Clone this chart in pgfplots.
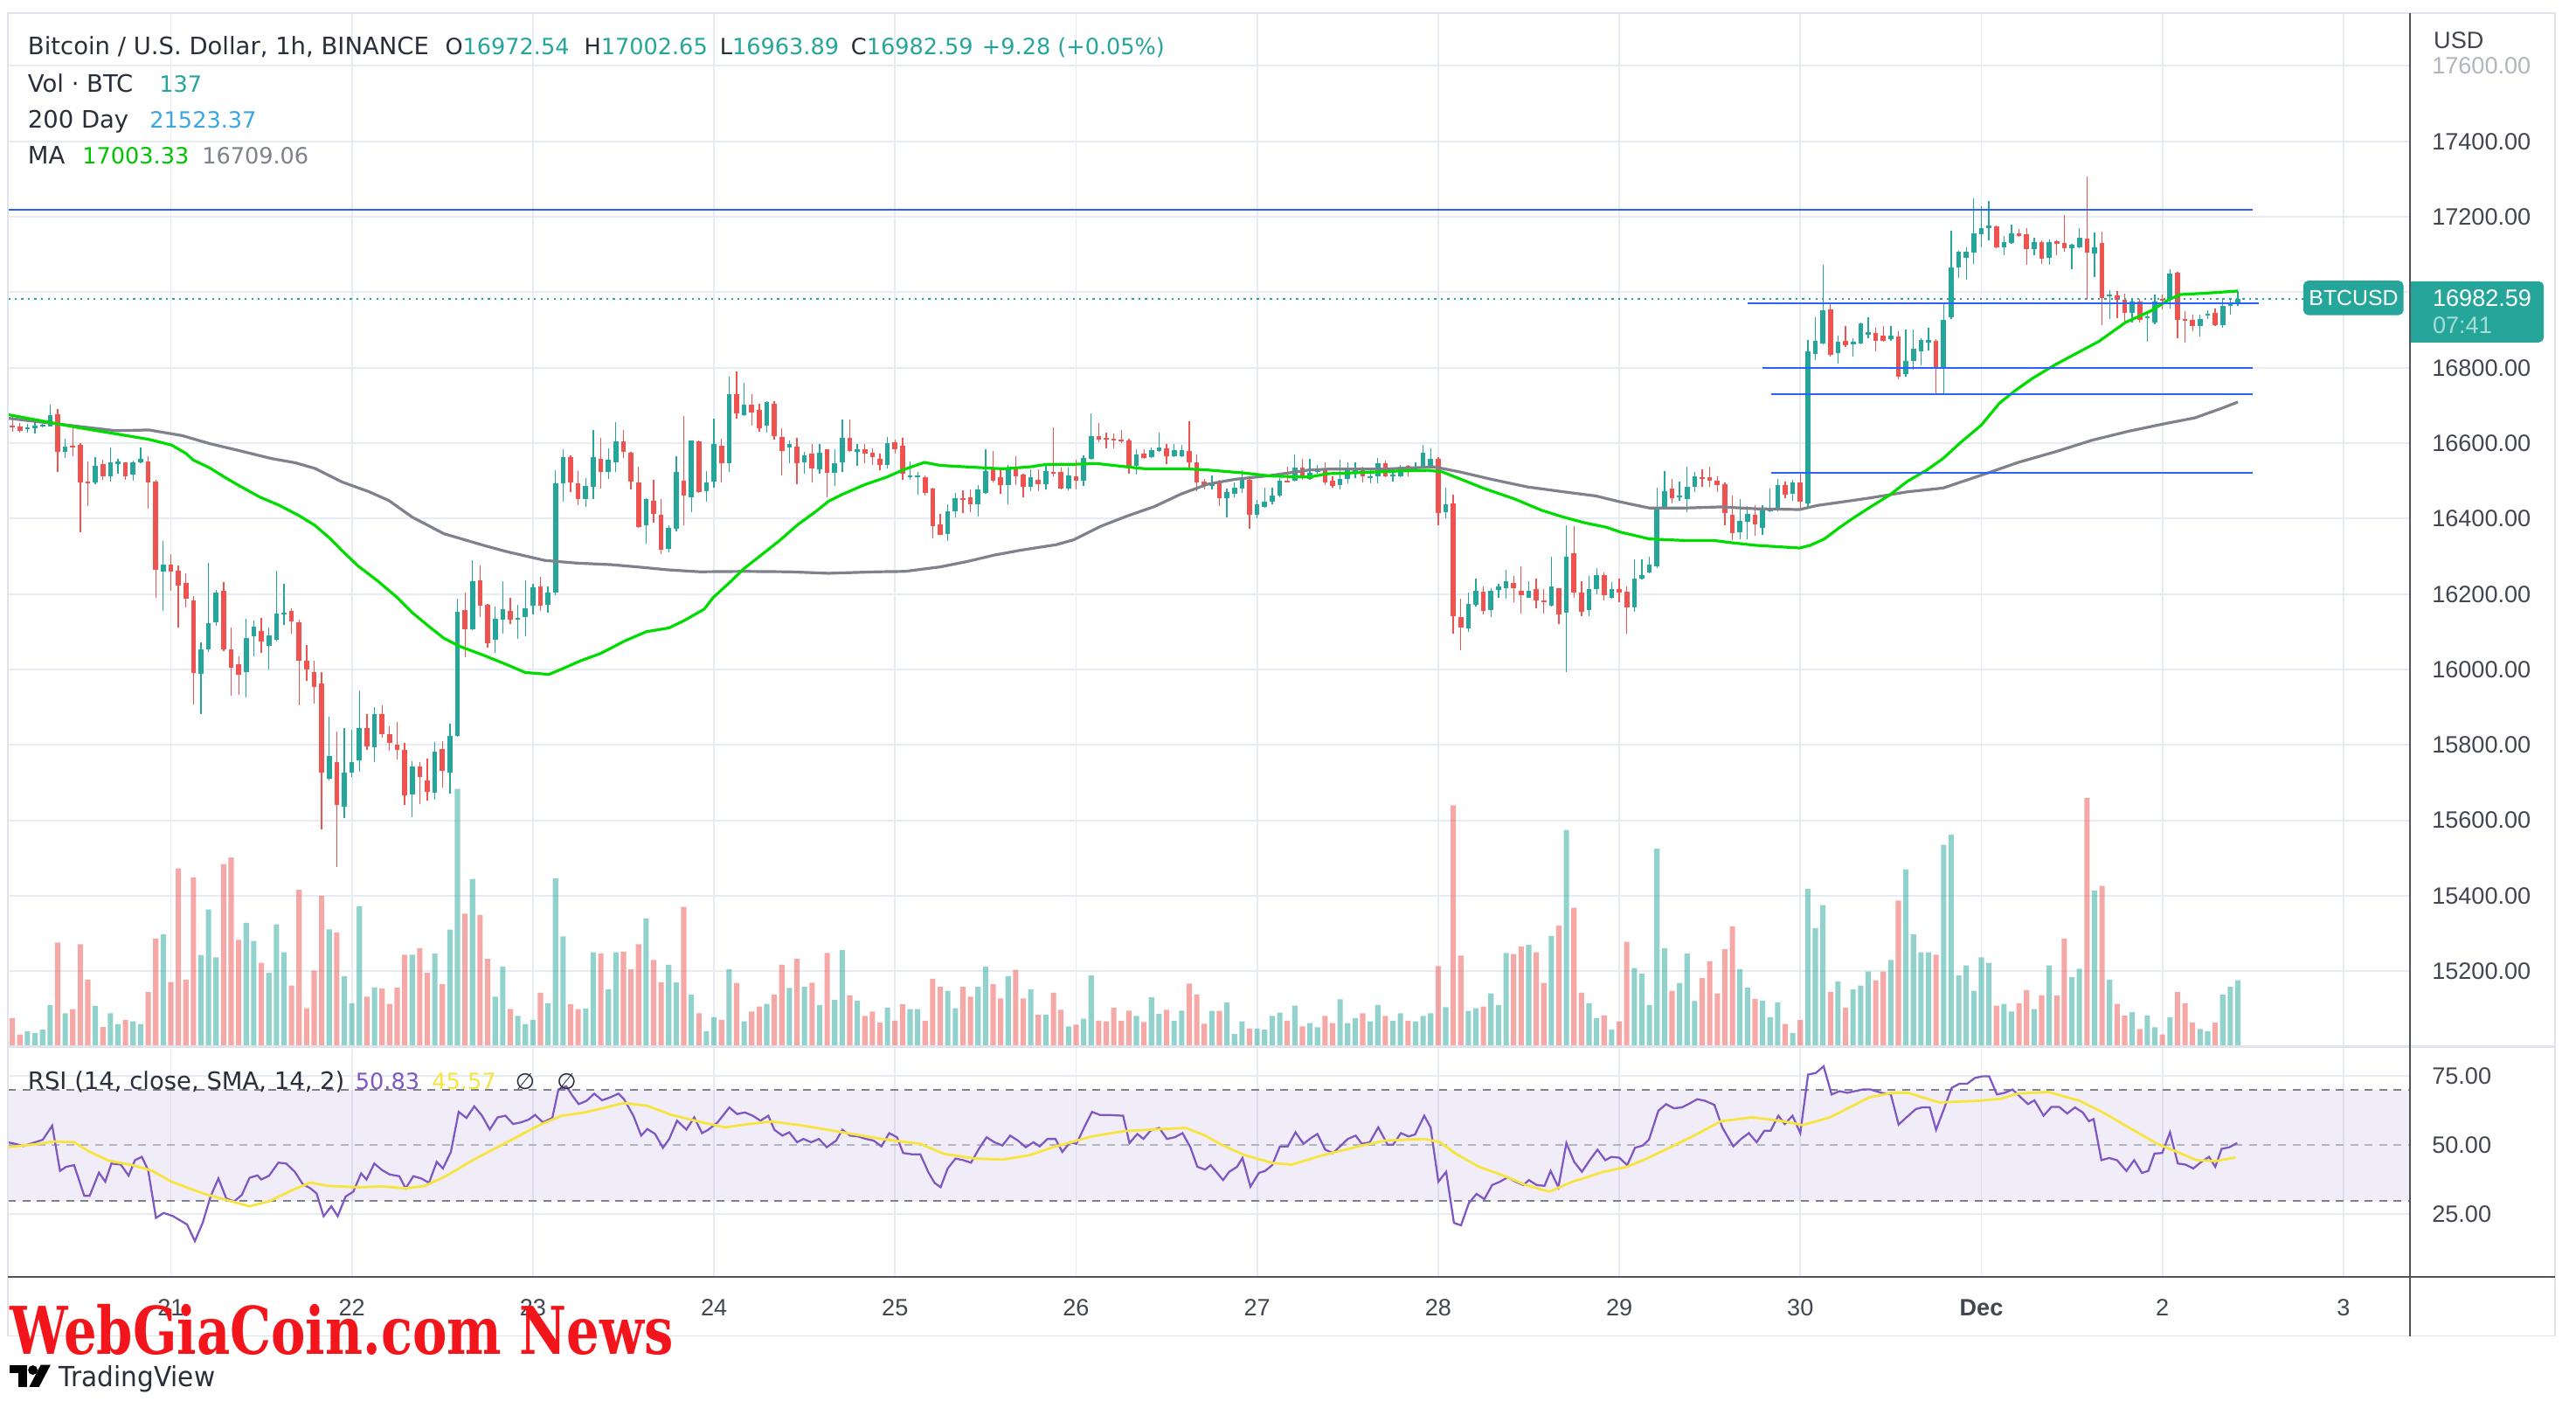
\documentclass[border=0pt]{standalone}
\usepackage{pgfplots}
\usepackage{pgfplotstable}
\pgfplotsset{compat=1.18}
\usepackage{fontspec}
\setmainfont{DejaVu Sans}
\newfontfamily\libsans{Liberation Sans}
\newfontfamily\wmserif{DejaVu Serif}

\definecolor{upc}{HTML}{26A69A}
\definecolor{dnc}{HTML}{EF5350}
\definecolor{gridc}{HTML}{E6ECF2}
\definecolor{txt}{HTML}{2A2E39}
\definecolor{lbl}{HTML}{434651}
\definecolor{faded}{HTML}{B2B5BE}
\definecolor{maG}{HTML}{00DC00}
\definecolor{maGt}{HTML}{00C400}
\definecolor{maK}{HTML}{7F818C}
\definecolor{rsiL}{HTML}{7E57C2}
\definecolor{rsiM}{HTML}{F7E441}
\definecolor{blu}{HTML}{2962FF}
\definecolor{sep}{HTML}{E0E3EB}
\definecolor{dark}{HTML}{50535E}
\definecolor{lblue}{HTML}{3BA6E0}
\definecolor{tagsub}{HTML}{A8DDD7}
\definecolor{wmred}{HTML}{F2151B}

\newcommand\hdr{\fontsize{6.8}{8}\selectfont}
\newcommand\hdrw{\fontsize{7.3}{8}\selectfont}
\newcommand\lbl{\libsans\fontsize{7.2}{8.6}\selectfont}

% hourly candles: t = hours after Nov 21 00:00, v = volume (relative units)
\pgfplotstableread{
t o h l c v
-22 16675 16679 16642 16645 1.48
-21 16645 16670 16630 16642 1.74
-20 16645 16654 16628 16632 0.74
-19 16637 16651 16628 16641 0.94
-18 16641 16657 16626 16645 0.84
-17 16644 16652 16642 16648 1.04
-16 16645 16701 16644 16675 2.54
-15 16676 16690 16524 16577 6.34
-14 16577 16612 16561 16590 2.04
-13 16593 16648 16565 16589 2.28
-12 16595 16601 16364 16496 6.24
-11 16497 16552 16433 16495 4.08
-10 16495 16562 16492 16541 2.48
-9 16544 16555 16503 16512 1.20
-8 16512 16588 16499 16550 2.04
-7 16547 16559 16519 16549 1.38
-6 16549 16550 16502 16512 1.64
-5 16517 16553 16500 16549 1.54
-4 16549 16588 16547 16558 1.38
-3 16552 16566 16426 16496 3.34
-2 16497 16502 16190 16264 6.58
-1 16260 16340 16156 16277 6.84
0 16277 16305 16209 16260 3.94
1 16263 16275 16111 16222 10.85
2 16229 16256 16165 16187 4.08
3 16182 16194 15907 15991 10.31
4 15989 16072 15881 16053 5.58
5 16053 16282 16047 16122 8.35
6 16126 16212 16116 16205 5.44
7 16208 16231 16049 16053 11.11
8 16053 16111 15930 16005 11.51
9 16013 16034 15934 15987 6.50
10 15993 16134 15925 16083 7.54
11 16088 16131 16036 16114 6.44
12 16103 16136 16045 16073 5.10
13 16063 16111 16001 16091 4.50
14 16080 16261 16074 16148 7.44
15 16146 16227 16118 16149 5.74
16 16156 16162 16096 16127 3.72
17 16125 16132 15905 16024 9.55
18 16024 16065 15970 16001 2.34
19 15994 16023 15910 15954 4.64
20 15964 15994 15577 15726 9.19
21 15710 15876 15706 15770 7.14
22 15754 15836 15477 15641 6.96
23 15636 15844 15606 15726 4.30
24 15726 15839 15715 15754 2.64
25 15758 15945 15730 15845 8.55
26 15845 15883 15786 15796 3.04
27 15794 15900 15755 15883 3.60
28 15881 15905 15819 15828 3.54
29 15828 15850 15785 15805 2.60
30 15801 15860 15761 15787 3.60
31 15788 15805 15640 15666 5.60
32 15669 15757 15608 15742 5.60
33 15742 15754 15644 15715 6.00
34 15705 15764 15652 15675 4.50
35 15673 15807 15655 15783 5.68
36 15789 15810 15687 15731 3.80
37 15726 15856 15671 15825 7.12
38 15823 16187 15821 16152 15.69
39 16157 16205 16032 16107 8.10
40 16107 16289 16104 16233 10.21
41 16236 16275 16138 16169 8.02
42 16171 16174 16058 16069 5.34
43 16078 16166 16043 16134 3.04
44 16131 16233 16094 16160 4.88
45 16156 16189 16120 16131 2.30
46 16133 16171 16080 16136 1.88
47 16138 16237 16089 16163 1.38
48 16169 16227 16145 16218 1.64
49 16221 16246 16156 16169 3.28
50 16172 16221 16151 16203 2.64
51 16203 16528 16197 16493 10.25
52 16493 16585 16444 16564 6.72
53 16564 16567 16471 16495 2.58
54 16493 16526 16435 16451 2.28
55 16451 16507 16431 16486 2.32
56 16484 16635 16452 16564 5.74
57 16559 16615 16480 16524 5.68
58 16524 16586 16506 16555 3.50
59 16549 16656 16523 16604 5.74
60 16604 16634 16560 16577 5.78
61 16575 16576 16477 16498 4.70
62 16495 16537 16375 16378 6.24
63 16382 16455 16334 16451 7.80
64 16447 16502 16390 16413 5.28
65 16410 16451 16306 16317 3.92
66 16320 16382 16311 16375 4.98
67 16372 16565 16365 16523 3.92
68 16500 16672 16382 16461 8.51
69 16457 16608 16417 16606 3.18
70 16604 16606 16469 16471 2.04
71 16473 16527 16444 16496 0.94
72 16498 16664 16481 16597 1.80
73 16593 16612 16496 16546 1.64
74 16546 16776 16523 16729 4.70
75 16729 16790 16665 16678 3.88
76 16674 16760 16672 16702 1.54
77 16702 16729 16647 16682 2.14
78 16688 16704 16631 16639 2.44
79 16647 16712 16627 16709 2.60
80 16704 16712 16610 16618 3.18
81 16617 16639 16514 16579 4.98
82 16589 16608 16546 16598 3.58
83 16590 16614 16491 16546 5.34
84 16549 16576 16519 16568 3.64
85 16573 16598 16496 16532 3.90
86 16531 16598 16519 16575 2.54
87 16583 16585 16456 16522 5.70
88 16522 16585 16486 16548 2.84
89 16548 16662 16523 16614 5.88
90 16614 16662 16577 16580 3.12
91 16576 16599 16540 16583 2.80
92 16583 16597 16546 16573 1.88
93 16574 16587 16542 16563 2.14
94 16558 16573 16529 16542 1.48
95 16542 16617 16532 16600 2.38
96 16602 16610 16573 16585 1.58
97 16593 16614 16502 16519 2.58
98 16510 16551 16502 16513 2.28
99 16512 16523 16463 16514 2.28
100 16510 16514 16460 16469 1.58
101 16479 16482 16347 16380 4.14
102 16384 16413 16356 16357 3.64
103 16359 16438 16341 16419 3.40
104 16419 16468 16403 16455 2.34
105 16455 16475 16415 16450 3.64
106 16456 16477 16417 16438 3.04
107 16438 16488 16405 16477 3.64
108 16469 16583 16465 16525 4.88
109 16535 16580 16496 16500 3.80
110 16509 16531 16465 16488 2.94
111 16488 16542 16438 16533 4.30
112 16533 16565 16488 16512 4.68
113 16517 16519 16456 16485 2.94
114 16485 16531 16473 16510 3.48
115 16502 16531 16473 16492 1.94
116 16491 16546 16477 16525 1.94
117 16522 16641 16512 16519 3.28
118 16523 16535 16477 16479 2.24
119 16479 16535 16475 16514 1.24
120 16511 16556 16477 16500 1.34
121 16500 16568 16487 16560 1.70
122 16558 16678 16556 16618 4.34
123 16618 16653 16602 16610 1.58
124 16614 16629 16587 16610 1.54
125 16612 16625 16587 16607 2.38
126 16609 16635 16600 16604 1.58
127 16608 16612 16519 16541 2.20
128 16541 16585 16517 16570 1.88
129 16573 16583 16558 16560 1.50
130 16563 16589 16561 16581 3.00
131 16580 16627 16577 16589 2.00
132 16587 16597 16545 16565 2.24
133 16566 16597 16563 16581 1.58
134 16566 16595 16562 16581 2.20
135 16580 16658 16531 16549 3.84
136 16549 16570 16473 16496 3.18
137 16498 16504 16477 16486 1.40
138 16486 16514 16477 16496 2.18
139 16498 16502 16433 16455 2.18
140 16455 16479 16403 16471 2.70
141 16465 16496 16457 16482 0.78
142 16480 16529 16469 16503 1.54
143 16503 16506 16372 16410 1.10
144 16411 16450 16401 16438 1.10
145 16432 16482 16428 16444 1.04
146 16444 16482 16438 16461 1.88
147 16460 16507 16457 16500 2.08
148 16500 16538 16495 16498 1.58
149 16500 16570 16498 16536 2.50
150 16536 16558 16504 16508 1.24
151 16506 16559 16504 16522 1.44
152 16524 16542 16519 16533 1.18
153 16533 16550 16488 16497 1.88
154 16500 16513 16481 16487 1.44
155 16488 16557 16478 16506 2.88
156 16506 16550 16493 16528 1.44
157 16518 16550 16508 16528 1.74
158 16528 16537 16495 16511 2.04
159 16509 16533 16493 16511 1.54
160 16511 16561 16493 16546 2.54
161 16546 16553 16509 16511 1.88
162 16513 16524 16497 16515 1.58
163 16511 16542 16509 16537 2.04
164 16539 16542 16511 16530 1.58
165 16528 16549 16524 16535 1.54
166 16535 16595 16533 16575 1.88
167 16537 16586 16533 16558 2.04
168 16558 16562 16382 16415 4.90
169 16417 16481 16401 16437 2.40
170 16440 16464 16095 16141 14.69
171 16138 16187 16051 16111 5.54
172 16109 16205 16100 16174 2.18
173 16171 16242 16167 16209 2.34
174 16207 16221 16145 16156 2.44
175 16158 16215 16138 16209 3.24
176 16211 16227 16189 16220 2.54
177 16215 16265 16187 16233 5.70
178 16229 16247 16178 16215 5.64
179 16209 16273 16149 16196 6.10
180 16191 16233 16189 16209 6.20
181 16213 16242 16162 16182 5.74
182 16182 16213 16149 16181 3.88
183 16169 16299 16167 16221 6.74
184 16215 16216 16120 16147 7.38
185 16150 16382 15992 16300 13.19
186 16309 16379 16189 16203 8.45
187 16205 16233 16141 16153 3.28
188 16158 16247 16142 16213 2.64
189 16213 16269 16200 16251 1.74
190 16251 16258 16182 16196 1.90
191 16191 16231 16187 16213 1.04
192 16213 16240 16178 16205 1.54
193 16207 16220 16095 16165 6.38
194 16165 16293 16153 16240 4.78
195 16242 16293 16238 16251 4.44
196 16258 16299 16256 16277 2.54
197 16274 16481 16269 16428 12.05
198 16428 16526 16425 16472 6.00
199 16480 16506 16440 16455 3.40
200 16457 16499 16448 16460 3.88
201 16451 16537 16417 16484 5.68
202 16484 16524 16471 16511 2.78
203 16509 16531 16484 16506 4.18
204 16509 16537 16484 16500 5.20
205 16500 16511 16471 16488 3.24
206 16491 16497 16382 16415 5.94
207 16410 16462 16342 16362 7.32
208 16364 16451 16346 16395 4.72
209 16391 16433 16346 16413 3.60
210 16409 16435 16355 16384 2.90
211 16375 16435 16357 16425 2.80
212 16420 16480 16417 16426 1.80
213 16422 16504 16419 16488 2.70
214 16490 16499 16453 16464 1.38
215 16466 16502 16448 16495 0.84
216 16495 16524 16426 16444 1.64
217 16441 16874 16431 16843 9.61
218 16836 16934 16821 16872 7.22
219 16865 17074 16863 16952 8.61
220 16954 16972 16830 16833 3.34
221 16839 16885 16810 16870 3.98
222 16872 16910 16856 16859 2.38
223 16864 16879 16830 16867 3.48
224 16865 16920 16861 16917 3.72
225 16890 16934 16879 16892 4.58
226 16892 16905 16843 16872 4.04
227 16886 16910 16868 16872 4.58
228 16877 16910 16872 16886 5.28
229 16883 16896 16770 16777 8.89
230 16783 16901 16777 16817 10.79
231 16817 16901 16794 16850 6.84
232 16843 16879 16806 16874 5.74
233 16868 16907 16845 16872 5.74
234 16872 16875 16730 16797 5.60
235 16797 16970 16730 16926 12.29
236 16934 17163 16930 17065 12.91
237 17065 17109 17038 17107 4.34
238 17092 17120 17034 17108 4.94
239 17105 17249 17076 17155 3.40
240 17154 17229 17120 17171 5.44
241 17169 17241 17138 17178 5.10
242 17175 17176 17116 17120 2.50
243 17120 17149 17099 17133 2.60
244 17131 17180 17128 17155 2.14
245 17155 17167 17147 17149 2.64
246 17154 17169 17074 17115 3.44
247 17115 17145 17099 17133 2.28
248 17133 17138 17076 17089 3.12
249 17092 17140 17072 17133 4.94
250 17133 17138 17098 17131 3.12
251 17130 17204 17107 17116 6.58
252 17116 17129 17061 17127 4.24
253 17118 17169 17116 17145 4.74
254 17143 17307 16981 17105 15.15
255 17102 17158 17040 17120 9.51
256 17130 17161 16914 16985 9.79
257 16990 17005 16930 16992 4.08
258 16991 17003 16932 16981 2.60
259 16981 16996 16923 16945 1.90
260 16945 16981 16919 16976 2.10
261 16976 16983 16919 16926 1.08
262 16932 16950 16870 16934 1.90
263 16919 16994 16916 16976 1.18
264 16981 16994 16954 16979 0.74
265 16981 17061 16958 17049 1.80
266 17052 17054 16879 16927 3.34
267 16929 16950 16867 16926 2.64
268 16927 16941 16896 16910 1.48
269 16910 16941 16883 16929 1.08
270 16939 16952 16929 16943 0.94
271 16945 16958 16910 16914 1.48
272 16914 16985 16907 16963 3.18
273 16963 16982 16941 16974 3.64
274 16972.54 17002.65 16963.89 16982.59 4.04
}\candles

\pgfplotsset{
  pane/.style={scale only axis, width=731pt, anchor=south west,
    xmin=20.102, xmax=33.368, scaled ticks=false},
  nomark/.style={only marks, mark=*, mark size=0pt, mark options={draw=none, fill=none}},
}

\begin{document}
\begin{tikzpicture}[x=1pt,y=1pt]
\fill[white] (0,0) rectangle (784,430.5);
\coordinate (pp) at (2.5,112);
\coordinate (rp) at (2.5,42);

% price pane: grid and price scale
\begin{axis}[pane, at={(pp)}, height=314.5pt,
  ymin=15000, ymax=17740,
  xtick={21,22,23,24,25,26,27,28,29,30,31,32,33}, xticklabels={},
  ytick={15200,15400,15600,15800,16000,16200,16400,16600,16800,17000,17200,17400,17600},
  yticklabels={15200.00,15400.00,15600.00,15800.00,16000.00,16200.00,16400.00,16600.00,16800.00,{},17200.00,17400.00,\textcolor{faded}{17600.00}},
  yticklabel pos=right,
  yticklabel style={font=\lbl, text=lbl, anchor=west, inner sep=0pt, xshift=6.5pt},
  grid=major, grid style={gridc, line width=0.5pt},
  axis line style={draw=none}, major tick length=0pt, tick style={draw=none}]
\end{axis}

% volume
\begin{axis}[pane, at={(pp)}, height=314.5pt, ymin=0, ymax=62.9, hide axis]
\addplot[ybar, bar width=0.0295, bar shift=0pt, draw=none, fill=upc, fill opacity=0.5,
  restrict x to domain=0:100]
  table[x expr={ifthenelse(\thisrow{c}<\thisrow{o},-1,21+\thisrow{t}/24)}, y=v] {\candles};
\addplot[ybar, bar width=0.0295, bar shift=0pt, draw=none, fill=dnc, fill opacity=0.5,
  restrict x to domain=0:100]
  table[x expr={ifthenelse(\thisrow{c}<\thisrow{o},21+\thisrow{t}/24,-1)}, y=v] {\candles};
\end{axis}

% candles, moving averages, drawn levels
\begin{axis}[pane, at={(pp)}, height=314.5pt, ymin=15000, ymax=17740, hide axis]
\addplot[nomark, restrict x to domain=0:100,
  error bars/.cd, y dir=both, y explicit, error mark=none,
  error bar style={line width=0.35pt, draw=upc}]
  table[x expr={ifthenelse(\thisrow{c}<\thisrow{o},-1,21+\thisrow{t}/24)},
        y expr={(\thisrow{h}+\thisrow{l})/2},
        y error expr={(\thisrow{h}-\thisrow{l})/2}] {\candles};
\addplot[nomark, restrict x to domain=0:100,
  error bars/.cd, y dir=both, y explicit, error mark=none,
  error bar style={line width=0.35pt, draw=dnc}]
  table[x expr={ifthenelse(\thisrow{c}<\thisrow{o},21+\thisrow{t}/24,-1)},
        y expr={(\thisrow{h}+\thisrow{l})/2},
        y error expr={(\thisrow{h}-\thisrow{l})/2}] {\candles};
\addplot[nomark, restrict x to domain=0:100,
  error bars/.cd, y dir=both, y explicit, error mark=none,
  error bar style={line width=1.5pt, draw=upc}]
  table[x expr={ifthenelse(\thisrow{c}<\thisrow{o},-1,21+\thisrow{t}/24)},
        y expr={(\thisrow{o}+\thisrow{c})/2},
        y error expr={max(abs(\thisrow{o}-\thisrow{c})/2,2.5)}] {\candles};
\addplot[nomark, restrict x to domain=0:100,
  error bars/.cd, y dir=both, y explicit, error mark=none,
  error bar style={line width=1.5pt, draw=dnc}]
  table[x expr={ifthenelse(\thisrow{c}<\thisrow{o},21+\thisrow{t}/24,-1)},
        y expr={(\thisrow{o}+\thisrow{c})/2},
        y error expr={max(abs(\thisrow{o}-\thisrow{c})/2,2.5)}] {\candles};

% slow MA (grey)
\addplot[maK, line width=0.85pt] coordinates {
(20.100,16666) (20.138,16664) (20.371,16651) (20.696,16633) (20.879,16635) (21.063,16620)
(21.213,16599) (21.388,16579) (21.558,16559) (21.688,16548) (21.796,16533) (21.946,16497)
(22.096,16471) (22.204,16448) (22.333,16404) (22.508,16360) (22.721,16330) (22.850,16313)
(23.067,16289) (23.242,16282) (23.429,16278) (23.575,16272) (23.750,16264) (23.921,16259)
(24.167,16260) (24.413,16259) (24.633,16255) (24.904,16259) (25.054,16260) (25.250,16272)
(25.396,16286) (25.546,16303) (25.692,16316) (25.892,16331) (25.988,16344) (26.138,16380)
(26.283,16407) (26.433,16432) (26.579,16465) (26.725,16491) (26.875,16504) (27.071,16514)
(27.288,16529) (27.388,16531) (27.683,16531) (27.979,16537) (28.117,16524) (28.296,16504)
(28.492,16484) (28.692,16471) (28.871,16460) (29.008,16444) (29.167,16428) (29.363,16428)
(29.558,16431) (29.758,16426) (29.996,16424) (30.096,16435) (30.288,16448) (30.388,16455)
(30.592,16471) (30.788,16481) (30.900,16499) (31.042,16522) (31.204,16549) (31.408,16577)
(31.613,16608) (31.817,16632) (32.017,16652) (32.179,16667) (32.325,16692) (32.417,16709.06)
};
% fast MA (green)
\addplot[maG, line width=0.85pt] coordinates {
(20.096,16676) (20.479,16642) (20.879,16610) (21.004,16595) (21.083,16573) (21.125,16555)
(21.213,16535) (21.300,16509) (21.375,16488) (21.492,16457) (21.600,16435) (21.708,16408)
(21.796,16382) (21.883,16346) (21.946,16315) (22.033,16275) (22.142,16235) (22.250,16191)
(22.333,16151) (22.421,16116) (22.508,16083) (22.592,16062) (22.721,16039) (22.850,16014)
(22.958,15992) (23.088,15987) (23.154,16000) (23.263,16023) (23.371,16042) (23.429,16056)
(23.504,16075) (23.625,16100) (23.750,16110) (23.833,16129) (23.946,16160) (23.996,16191)
(24.083,16229) (24.167,16268) (24.292,16315) (24.363,16342) (24.463,16384) (24.563,16419)
(24.633,16446) (24.708,16464) (24.833,16490) (24.954,16510) (25.054,16531) (25.163,16549)
(25.250,16541) (25.396,16537) (25.596,16532) (25.742,16537) (25.842,16544) (25.988,16544)
(26.113,16546) (26.283,16537) (26.383,16532) (26.604,16532) (26.725,16529) (26.925,16521)
(27.071,16513) (27.288,16510) (27.388,16519) (27.583,16522) (27.783,16526) (27.942,16528)
(28.021,16524) (28.138,16502) (28.258,16479) (28.417,16453) (28.571,16422) (28.692,16404)
(28.808,16389) (28.929,16377) (29.008,16364) (29.167,16346) (29.363,16342) (29.521,16342)
(29.621,16336) (29.758,16329) (29.996,16322) (30.054,16329) (30.133,16346) (30.213,16375)
(30.288,16400) (30.388,16431) (30.492,16462) (30.592,16499) (30.696,16528) (30.788,16559)
(30.879,16599) (31.000,16648) (31.100,16706) (31.183,16738) (31.283,16772) (31.408,16808)
(31.529,16839) (31.650,16870) (31.796,16920) (31.938,16951) (32.038,16981) (32.100,16994)
(32.221,16997) (32.417,17003.33)
};
% horizontal levels
\addplot[blu, line width=0.6pt] coordinates {(20.102,17219) (32.50,17219)};
\addplot[blu, line width=0.6pt] coordinates {(29.71,16970) (32.53,16970)};
\addplot[blu, line width=0.6pt] coordinates {(29.79,16800) (32.50,16800)};
\addplot[blu, line width=0.6pt] coordinates {(29.84,16729) (32.50,16729)};
\addplot[blu, line width=0.6pt] coordinates {(29.84,16521) (32.50,16521)};
% last price
\addplot[upc, line width=0.5pt, dash pattern=on 0.6pt off 1.4pt] coordinates {(20.102,16982.59) (32.78,16982.59)};
\end{axis}

% RSI pane
\begin{axis}[pane, at={(rp)}, height=70pt, ymin=2.38, ymax=85.7,
  xtick={21,22,23,24,25,26,27,28,29,30,31,32,33},
  xticklabels={21,22,23,24,25,26,27,28,29,30,\textbf{Dec},2,3},
  xticklabel style={font=\lbl, text=lbl, anchor=base, inner sep=0pt, yshift=-12pt},
  ytick={25,50,75}, yticklabels={25.00,50.00,75.00},
  yticklabel pos=right,
  yticklabel style={font=\lbl, text=lbl, anchor=west, inner sep=0pt, xshift=6.5pt},
  xmajorgrids, grid style={gridc, line width=0.5pt},
  axis line style={draw=none}, major tick length=0pt, tick style={draw=none}]
\fill[rsiL, fill opacity=0.1] (axis cs:20.102,30) rectangle (axis cs:33.368,70);
\addplot[gridc, line width=0.5pt] coordinates {(20.102,25) (33.368,25)};
\addplot[gridc, line width=0.5pt] coordinates {(20.102,75) (33.368,75)};
\addplot[maK, line width=0.5pt, dash pattern=on 2.4pt off 2pt] coordinates {(20.102,70) (33.368,70)};
\addplot[maK, line width=0.5pt, dash pattern=on 2.4pt off 2pt] coordinates {(20.102,30) (33.368,30)};
\addplot[faded, line width=0.5pt, dash pattern=on 2.4pt off 2pt] coordinates {(20.102,50) (33.368,50)};
\addplot[rsiL, line width=0.6pt] coordinates {
(20.099,51.1) (20.142,50.5) (20.185,49.7) (20.250,51.1) (20.293,52.0) (20.345,57.1) (20.388,40.7)
(20.422,42.2) (20.466,42.8) (20.522,31.7) (20.552,31.7) (20.603,40.1) (20.638,36.8) (20.672,43.4)
(20.724,43.0) (20.767,39.0) (20.802,44.6) (20.840,45.8) (20.875,41.0) (20.918,23.7) (20.961,25.5)
(21.013,24.3) (21.090,21.3) (21.133,15.3) (21.176,21.9) (21.220,31.5) (21.263,38.0) (21.306,30.8)
(21.349,29.6) (21.392,32.0) (21.435,38.2) (21.478,39.1) (21.500,37.6) (21.543,39.0) (21.594,43.7)
(21.637,43.4) (21.685,40.4) (21.728,36.0) (21.771,34.4) (21.805,32.6) (21.844,24.3) (21.887,27.9)
(21.922,24.3) (21.965,31.4) (22.008,33.2) (22.051,39.8) (22.081,37.6) (22.124,43.4) (22.167,41.0)
(22.210,39.4) (22.262,38.8) (22.297,34.4) (22.340,38.8) (22.383,38.0) (22.426,36.4) (22.469,44.0)
(22.503,41.6) (22.547,47.6) (22.590,62.1) (22.633,59.9) (22.676,64.1) (22.719,60.7) (22.762,55.7)
(22.805,60.1) (22.848,60.7) (22.891,57.7) (22.934,58.3) (22.977,59.3) (23.012,61.0) (23.055,58.3)
(23.107,59.9) (23.141,70.2) (23.184,71.4) (23.219,67.9) (23.253,64.9) (23.296,66.1) (23.339,68.7)
(23.382,66.3) (23.425,67.3) (23.473,68.7) (23.503,66.7) (23.555,60.7) (23.598,53.5) (23.632,55.9)
(23.675,54.1) (23.718,49.1) (23.753,52.3) (23.796,58.9) (23.848,55.7) (23.891,60.1) (23.934,54.4)
(23.968,55.6) (24.020,58.3) (24.085,63.7) (24.128,61.3) (24.171,61.9) (24.214,60.7) (24.257,58.9)
(24.300,60.7) (24.334,55.6) (24.378,53.5) (24.416,54.7) (24.459,51.1) (24.494,52.3) (24.537,51.1)
(24.580,52.3) (24.623,49.3) (24.675,51.7) (24.709,55.6) (24.752,53.5) (24.796,53.2) (24.839,52.3)
(24.882,51.7) (24.925,49.6) (24.968,54.4) (25.011,52.9) (25.045,47.2) (25.097,46.7) (25.140,46.7)
(25.183,40.4) (25.218,36.4) (25.252,34.8) (25.291,41.6) (25.334,45.2) (25.377,44.6) (25.420,43.7)
(25.463,48.7) (25.506,52.9) (25.549,51.1) (25.593,49.9) (25.636,53.5) (25.679,51.7) (25.722,49.3)
(25.765,51.1) (25.799,49.6) (25.842,52.3) (25.886,52.3) (25.924,47.6) (25.967,51.1) (26.002,50.5)
(26.045,56.5) (26.088,62.1) (26.131,61.0) (26.174,61.0) (26.260,60.7) (26.295,50.8) (26.338,54.1)
(26.372,52.3) (26.411,55.3) (26.459,56.3) (26.502,52.3) (26.545,52.9) (26.588,54.4) (26.631,49.3)
(26.670,42.2) (26.713,41.2) (26.743,42.8) (26.812,37.4) (26.846,40.4) (26.889,42.2) (26.919,45.4)
(26.963,35.0) (27.010,40.0) (27.044,40.7) (27.083,42.8) (27.126,49.6) (27.169,49.6) (27.212,54.7)
(27.256,50.5) (27.299,52.7) (27.333,54.1) (27.376,48.4) (27.419,47.2) (27.458,49.6) (27.501,52.3)
(27.544,53.5) (27.579,50.5) (27.622,51.1) (27.669,56.5) (27.721,50.2) (27.751,50.2) (27.794,54.4)
(27.837,53.2) (27.872,53.9) (27.923,60.7) (27.958,56.5) (28.001,36.8) (28.044,40.4) (28.087,21.9)
(28.126,21.0) (28.169,29.0) (28.212,32.4) (28.255,30.5) (28.298,35.6) (28.341,36.8) (28.384,38.4)
(28.427,36.8) (28.471,35.6) (28.501,37.4) (28.544,35.6) (28.587,35.3) (28.621,40.7) (28.664,34.8)
(28.708,50.8) (28.751,44.0) (28.794,40.4) (28.837,44.6) (28.880,48.4) (28.923,44.6) (28.957,45.8)
(29.000,45.5) (29.044,42.8) (29.087,49.1) (29.130,49.9) (29.164,52.0) (29.216,62.5) (29.259,64.9)
(29.302,63.4) (29.345,63.7) (29.388,65.1) (29.431,66.7) (29.474,66.1) (29.526,64.6) (29.569,56.5)
(29.630,49.6) (29.673,52.3) (29.716,54.4) (29.759,51.1) (29.802,55.3) (29.836,55.3) (29.879,60.7)
(29.914,57.7) (29.957,60.7) (30.000,54.4) (30.043,75.6) (30.086,76.2) (30.129,78.6) (30.173,68.4)
(30.216,69.6) (30.259,69.0) (30.302,69.6) (30.345,70.2) (30.388,70.2) (30.448,69.0) (30.500,68.4)
(30.543,57.5) (30.586,60.1) (30.638,63.1) (30.672,63.7) (30.715,63.7) (30.750,55.6) (30.793,63.1)
(30.836,70.8) (30.879,72.3) (30.922,72.3) (30.965,74.4) (31.008,75.0) (31.043,75.0) (31.086,68.4)
(31.129,69.0) (31.172,70.2) (31.215,67.5) (31.258,64.9) (31.293,66.3) (31.344,60.7) (31.387,63.9)
(31.430,63.9) (31.474,61.5) (31.517,63.7) (31.560,61.9) (31.594,58.7) (31.620,59.5) (31.663,44.6)
(31.706,45.4) (31.749,44.6) (31.801,40.7) (31.844,44.6) (31.887,40.0) (31.922,40.7) (31.956,47.0)
(31.999,47.2) (32.042,54.7) (32.085,43.4) (32.128,43.0) (32.171,41.6) (32.215,44.0) (32.258,45.8)
(32.292,42.2) (32.327,48.7) (32.370,49.3) (32.413,50.83)
};
\addplot[rsiM, line width=0.75pt] coordinates {
(20.099,49.3) (20.272,50.5) (20.358,51.4) (20.466,51.1) (20.552,47.6) (20.659,44.4) (20.789,42.8)
(20.896,40.8) (21.004,36.8) (21.176,32.6) (21.306,30.2) (21.435,27.9) (21.543,29.7) (21.672,33.8)
(21.771,36.5) (21.866,35.3) (22.038,34.8) (22.167,35.1) (22.297,34.4) (22.404,35.3) (22.512,38.6)
(22.684,45.2) (22.857,51.1) (23.029,57.1) (23.158,60.7) (23.288,61.9) (23.503,65.3) (23.632,64.3)
(23.761,61.1) (23.934,58.3) (24.063,56.5) (24.192,57.7) (24.322,58.6) (24.494,57.1) (24.709,54.7)
(24.925,52.3) (25.140,50.5) (25.270,46.9) (25.442,45.2) (25.593,44.8) (25.743,46.4) (25.873,49.3)
(26.088,53.2) (26.260,55.1) (26.476,55.9) (26.605,56.3) (26.713,53.5) (26.812,49.9) (26.932,46.4)
(27.083,43.6) (27.191,43.0) (27.363,46.4) (27.579,49.9) (27.708,51.7) (27.923,52.3) (28.010,51.1)
(28.096,47.0) (28.225,42.2) (28.354,39.2) (28.484,35.6) (28.613,33.2) (28.742,36.8) (28.914,40.4)
(29.044,42.2) (29.173,45.8) (29.302,49.9) (29.431,54.1) (29.561,58.7) (29.733,60.1) (29.905,58.7)
(30.013,57.3) (30.164,60.1) (30.379,67.3) (30.509,69.0) (30.595,69.0) (30.767,65.5) (30.982,66.1)
(31.112,66.9) (31.198,68.7) (31.370,69.3) (31.543,66.1) (31.672,61.9) (31.844,55.3) (31.973,50.5)
(32.103,47.0) (32.189,44.6) (32.297,44.3) (32.404,45.57)
};
\end{axis}

% frame and separators
\draw[sep, line width=0.6pt] (2.5,112) -- (777.5,112);
\draw[sep, line width=0.5pt] (2.5,24) rectangle (777.5,426.5);
\draw[dark, line width=0.7pt] (2.5,42) -- (777.5,42);
\draw[dark, line width=0.6pt] (733.5,24) -- (733.5,426.5);

% legend texts
\begin{scope}[every node/.style={anchor=base west, inner sep=0pt, text=txt}]
\node at (8.3,414) {\hdrw Bitcoin / U.S. Dollar, 1h, BINANCE};
\node at (135.3,414) {\hdr O\textcolor{upc}{16972.54}};
\node at (177.6,414) {\hdr H\textcolor{upc}{17002.65}};
\node at (218.9,414) {\hdr L\textcolor{upc}{16963.89}};
\node at (258.8,414) {\hdr C\textcolor{upc}{16982.59}};
\node at (298.7,414) {\hdr\textcolor{upc}{+9.28 (+0.05\%)}};
\node at (8.3,402.5) {\hdrw Vol · BTC};
\node at (48.3,402.5) {\hdr\textcolor{upc}{137}};
\node at (8.3,391.5) {\hdrw 200 Day};
\node at (45.4,391.5) {\hdr\textcolor{lblue}{21523.37}};
\node at (8.3,380.5) {\hdrw MA};
\node at (24.9,380.5) {\hdr\textcolor{maGt}{17003.33}};
\node at (61.3,380.5) {\hdr\textcolor{maK}{16709.06}};
\node at (8.3,99) {\hdrw RSI (14, close, SMA, 14, 2)};
\node at (108,99) {\hdr\textcolor{rsiL}{50.83}};
\node at (131.3,99) {\hdr\textcolor{rsiM}{45.57}};
\node at (156.7,99) {\hdr ∅};
\node at (169.3,99) {\hdr ∅};
\node[text=lbl] at (740.5,415.8) {\lbl USD};
\end{scope}

% price tags
\fill[upc, rounded corners=1.5pt] (701,334.6) rectangle (731.5,345.1);
\node[text=white, inner sep=0pt] at (716.3,339.9) {\libsans\fontsize{6.6}{8}\selectfont BTCUSD};
\fill[upc, rounded corners=1.5pt] (733.8,326.3) rectangle (774.2,344.9);
\fill[upc] (733.8,326.3) rectangle (737,344.9);
\node[anchor=base west, inner sep=0pt, text=white] at (740.2,337.2) {\lbl 16982.59};
\node[anchor=base west, inner sep=0pt, text=tagsub] at (740.2,329) {\lbl 07:41};

% watermark and logo
\node[anchor=base west, inner sep=0pt, text=wmred] at (2.9,18.3)
  {\resizebox{201.8pt}{15.2pt}{\wmserif\bfseries WebGiaCoin.com News}};
\fill[black] (2.9,12.6) rectangle (8.2,15.2);
\fill[black] (5.5,8.5) rectangle (8.2,15.2);
\fill[black] (10.0,13.6) circle (1.45);
\fill[black] (8.9,8.5) -- (11.9,8.5) -- (15.4,15.2) -- (12.4,15.2) -- cycle;
\node[anchor=base west, inner sep=0pt, text=txt] at (17.8,8.5)
  {\resizebox{47.5pt}{6.4pt}{TradingView}};
\end{tikzpicture}
\end{document}
